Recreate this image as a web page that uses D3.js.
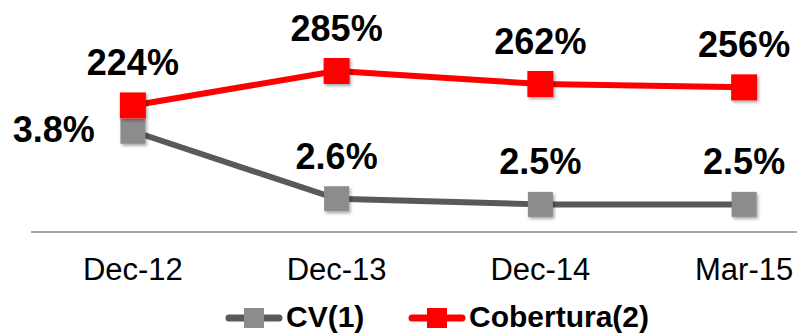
<!DOCTYPE html>
<html>
<head>
<meta charset="utf-8">
<script src="https://cdn.jsdelivr.net/npm/d3@7/dist/d3.min.js"></script>
<style>
  html, body { margin: 0; padding: 0; background: #fff; }
  svg { display: block; font-family: "Liberation Sans", Arial, sans-serif; }
</style>
</head>
<body>
<svg id="chart" width="797" height="334"></svg>
<script>
// Periods on the horizontal axis
const categories = ["Dec-12", "Dec-13", "Dec-14", "Mar-15"];
// CV(1), percent
const cvValues = [3.8, 2.6, 2.5, 2.5];
// Cobertura(2), percent
const coberturaValues = [224, 285, 262, 256];
const seriesNames = ["CV(1)", "Cobertura(2)"];

const W = 797, H = 334;
const svg = d3.select("#chart");

const defs = svg.append("defs");
const shadow = defs.append("filter").attr("id", "mshadow")
  .attr("x", "-30%").attr("y", "-30%").attr("width", "160%").attr("height", "160%");
shadow.append("feDropShadow").attr("dx", 1.5).attr("dy", 2).attr("stdDeviation", 1.5)
  .attr("flood-color", "#000").attr("flood-opacity", 0.35);

const x = d3.scaleBand().domain(categories).range([31, 846]);
const cx = d => x(d) + x.bandwidth() / 2;

// Two independent value axes (neither is drawn)
const yCob = d3.scaleLinear().domain([0, 400]).range([232, 6]);
const yCv = d3.scaleLinear().domain([0, 4]).range([345, 120]);

// Category axis: baseline rule and tick labels
const axisY = 232;
svg.append("line")
  .attr("x1", 31).attr("x2", W).attr("y1", axisY).attr("y2", axisY)
  .attr("stroke", "#a6a6a6").attr("stroke-width", 2);

const xAxis = d3.axisBottom(x).tickSize(0).tickPadding(0);
const gx = svg.append("g").attr("transform", `translate(0,${axisY})`).call(xAxis);
gx.select(".domain").remove();
gx.selectAll("text")
  .attr("y", 48).attr("dy", 0)
  .attr("font-size", 31).attr("fill", "#000")
  .attr("font-family", "'Liberation Sans', Arial, sans-serif");

const series = [
  { name: seriesNames[0], values: cvValues, y: yCv, line: "#595959", marker: "#8c8c8c", fmt: d => d.toFixed(1) + "%", size: 25 },
  { name: seriesNames[1], values: coberturaValues, y: yCob, line: "#ff0000", marker: "#ff0000", fmt: d => d + "%", size: 26 }
];

series.forEach(s => {
  const pts = categories.map((c, i) => ({ c, v: s.values[i] }));
  const line = d3.line().x(d => cx(d.c)).y(d => s.y(d.v));
  svg.append("path").datum(pts)
    .attr("d", line).attr("fill", "none")
    .attr("stroke", s.line).attr("stroke-width", 6)
    .attr("stroke-linejoin", "round");
  s.pts = pts;
});

series.forEach(s => {
  svg.append("g").selectAll("rect").data(s.pts).join("rect")
    .attr("x", d => cx(d.c) - s.size / 2)
    .attr("y", d => s.y(d.v) - s.size / 2)
    .attr("width", s.size).attr("height", s.size)
    .attr("fill", s.marker)
    .attr("filter", "url(#mshadow)");
});

// Value labels
series.forEach((s, si) => {
  svg.append("g").selectAll("text").data(s.pts).join("text")
    .attr("x", (d, i) => (si === 0 && i === 0) ? cx(d.c) - 38 : cx(d.c))
    .attr("y", (d, i) => (si === 0 && i === 0) ? s.y(d.v) + 11 : s.y(d.v) - 30)
    .attr("text-anchor", (d, i) => (si === 0 && i === 0) ? "end" : "middle")
    .attr("font-size", 36).attr("font-weight", "bold").attr("fill", "#000")
    .text(d => s.fmt(d.v));
});

// Legend
const legend = svg.append("g").attr("transform", "translate(0,318)");
const legendX = [226, 409];
series.forEach((s, i) => {
  const g = legend.append("g").attr("transform", `translate(${legendX[i]},0)`);
  g.append("line").attr("x1", 3).attr("x2", 53).attr("y1", 0).attr("y2", 0)
    .attr("stroke", s.line).attr("stroke-width", 7).attr("stroke-linecap", "round");
  g.append("rect").attr("x", 18).attr("y", -10).attr("width", 20).attr("height", 20)
    .attr("fill", s.marker);
  g.append("text").attr("x", 60).attr("y", 9)
    .attr("font-size", 30).attr("font-weight", "bold").attr("fill", "#000")
    .text(s.name);
});
</script>
</body>
</html>
